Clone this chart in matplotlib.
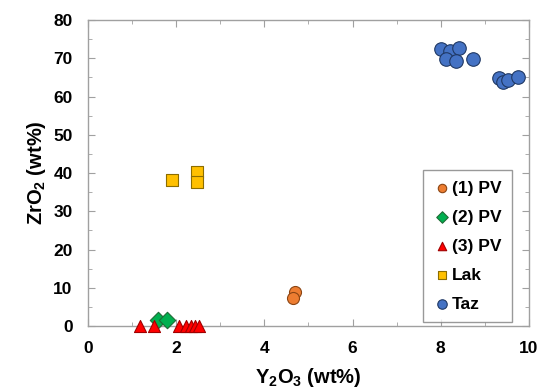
import matplotlib.pyplot as plt
from matplotlib.ticker import MultipleLocator

plt.rcParams['font.family'] = ['Liberation Sans', 'DejaVu Sans']
plt.rcParams['mathtext.fontset'] = 'custom'
plt.rcParams['mathtext.rm'] = 'Liberation Sans'
plt.rcParams['mathtext.bf'] = 'Liberation Sans:bold'

# Y2O3 / ZrO2 (wt%) per group
pv1_y2o3 = [4.70, 4.65]
pv1_zro2 = [8.8, 7.3]
pv2_y2o3 = [1.60, 1.80]
pv2_zro2 = [1.7, 1.5]
pv3_y2o3 = [1.18, 1.49, 2.07, 2.22, 2.33, 2.44, 2.52]
pv3_zro2 = [0, 0, 0, 0, 0, 0, 0]
lak_y2o3 = [1.90, 2.47, 2.47]
lak_zro2 = [38.3, 40.2, 37.6]
taz_y2o3 = [8.00, 8.20, 8.42, 8.12, 8.35, 8.72, 9.32, 9.42, 9.53, 9.76]
taz_zro2 = [72.3, 71.9, 72.6, 69.8, 69.3, 69.7, 64.8, 63.9, 64.3, 65.0]

fig = plt.figure(figsize=(5.42, 3.92), dpi=100)
ax = fig.add_axes([0.162, 0.168, 0.814, 0.781])

ax.scatter(pv1_y2o3, pv1_zro2, s=75, marker='o', color='#ED7D31', edgecolor='#8B4513',
           linewidth=0.8, label='(1) PV', zorder=3, clip_on=False)
ax.scatter(pv2_y2o3, pv2_zro2, s=70, marker='D', color='#00B050', edgecolor='#1E6B35',
           linewidth=0.8, label='(2) PV', zorder=3, clip_on=False)
ax.scatter(pv3_y2o3, pv3_zro2, s=75, marker='^', color='#FF0000', edgecolor='#A00000',
           linewidth=0.8, label='(3) PV', zorder=3, clip_on=False)
ax.scatter(lak_y2o3, lak_zro2, s=80, marker='s', color='#FFC000', edgecolor='#8C6D00',
           linewidth=0.8, label='Lak', zorder=3)
ax.scatter(taz_y2o3, taz_zro2, s=95, marker='o', color='#4472C4', edgecolor='#1F3864',
           linewidth=0.8, label='Taz', zorder=3)

ax.set_xlim(0, 10)
ax.set_ylim(0, 80)
ax.xaxis.set_major_locator(MultipleLocator(2))
ax.xaxis.set_minor_locator(MultipleLocator(1))
ax.yaxis.set_major_locator(MultipleLocator(10))
ax.yaxis.set_minor_locator(MultipleLocator(5))
ax.tick_params(which='both', direction='in', top=True, right=True, color='#A0A0A0',
               labelsize=12.5, pad=11)
ax.tick_params(which='major', length=5)
ax.tick_params(which='minor', length=3)
for t in ax.get_xticklabels() + ax.get_yticklabels():
    t.set_fontweight('bold')
for sp in ax.spines.values():
    sp.set_color('#A0A0A0')
    sp.set_linewidth(1.0)

ax.set_xlabel('Y$_\\mathbf{2}$O$_\\mathbf{3}$ (wt%)', fontsize=14.5, fontweight='bold', labelpad=7)
ax.set_ylabel('ZrO$_\\mathbf{2}$ (wt%)', fontsize=14.5, fontweight='bold', labelpad=4)

leg = ax.legend(loc='lower right', bbox_to_anchor=(0.962, 0.013), borderaxespad=0,
                fancybox=False, edgecolor='#808080', markerscale=0.7, handlelength=1.0,
                handletextpad=0.1, labelspacing=0.8, borderpad=0.6,
                prop={'weight': 'bold', 'size': 12.5})
leg.get_frame().set_linewidth(1.0)

fig.savefig('out.png', dpi=100)
